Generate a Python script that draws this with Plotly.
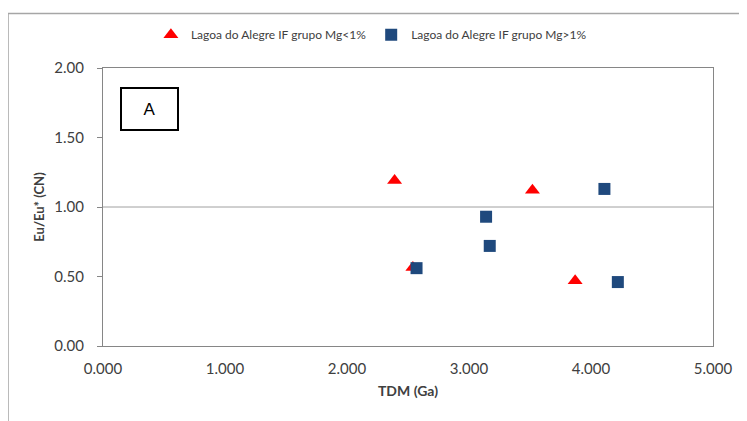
import plotly.graph_objects as go

# Data
tdm_low = [2.39, 3.52, 2.54, 3.87]
eu_low = [1.19, 1.12, 0.565, 0.47]
tdm_high = [2.57, 3.14, 3.17, 4.11, 4.22]
eu_high = [0.56, 0.93, 0.72, 1.13, 0.46]
name_low = "Lagoa do Alegre IF grupo Mg<1%"
name_high = "Lagoa do Alegre IF grupo Mg>1%"
x_ticks = [0, 1, 2, 3, 4, 5]
x_ticktext = ["0.000", "1.000", "2.000", "3.000", "4.000", "5.000"]
y_ticks = [0, 0.5, 1.0, 1.5, 2.0]
y_ticktext = ["0.00", "0.50", "1.00", "1.50", "2.00"]

FONT = "Lato"
fig = go.Figure()
fig.add_trace(go.Scatter(x=tdm_low, y=eu_low, mode="markers", name=name_low,
                         marker=dict(symbol="triangle-up", size=13, color="#FF0000")))
fig.add_trace(go.Scatter(x=tdm_high, y=eu_high, mode="markers", name=name_high,
                         marker=dict(symbol="square", size=12, color="#1F497D",
                                     line=dict(width=0))))

fig.update_layout(
    width=739, height=413,
    margin=dict(l=95, r=34, t=58, b=75),
    paper_bgcolor="white", plot_bgcolor="white",
    font=dict(family=FONT, color="#404040"),
    showlegend=True,
    legend=dict(orientation="h", x=0.44, xanchor="center", y=1.12, yanchor="middle",
                font=dict(size=12, color="#404040"), itemwidth=30,
                bgcolor="rgba(0,0,0,0)"),
    xaxis=dict(range=[0, 5], tickvals=x_ticks, ticktext=x_ticktext, showgrid=False,
               zeroline=False, showline=True, linecolor="#868686", linewidth=1, mirror=True,
               ticks="", ticklabelstandoff=9, tickfont=dict(size=15, color="#404040"),
               title=dict(text="<b>TDM (Ga)</b>", font=dict(size=14, color="#404040"), standoff=10)),
    yaxis=dict(range=[0, 2], tickvals=y_ticks, ticktext=y_ticktext, showgrid=False,
               zeroline=False, showline=True, linecolor="#868686", linewidth=1, mirror=True,
               ticks="outside", ticklen=5, tickcolor="#868686", ticklabelstandoff=10,
               tickfont=dict(size=15, color="#404040"),
               title=dict(text="<b>Eu/Eu* (CN)</b>", font=dict(size=13, color="#404040"), standoff=6)),
)

# reference line at 1.00
fig.add_shape(type="line", xref="paper", yref="y", x0=0, x1=1, y0=1.0, y1=1.0,
              line=dict(color="#a0a0a0", width=1))
# outer chart border
fig.add_shape(type="rect", xref="paper", yref="paper", x0=-0.1557, x1=1.1, y0=-0.4, y1=1.196,
              line=dict(color="#a6a6a6", width=1.5), layer="below")
# panel label
fig.add_annotation(xref="paper", yref="paper", x=0.0762, y=0.852, text="A", showarrow=False,
                   font=dict(family="Liberation Sans", size=17, color="black"),
                   width=55, height=40, borderpad=0, bordercolor="black", borderwidth=2,
                   bgcolor="white", xanchor="center", yanchor="middle")

fig.write_html("out.html")
